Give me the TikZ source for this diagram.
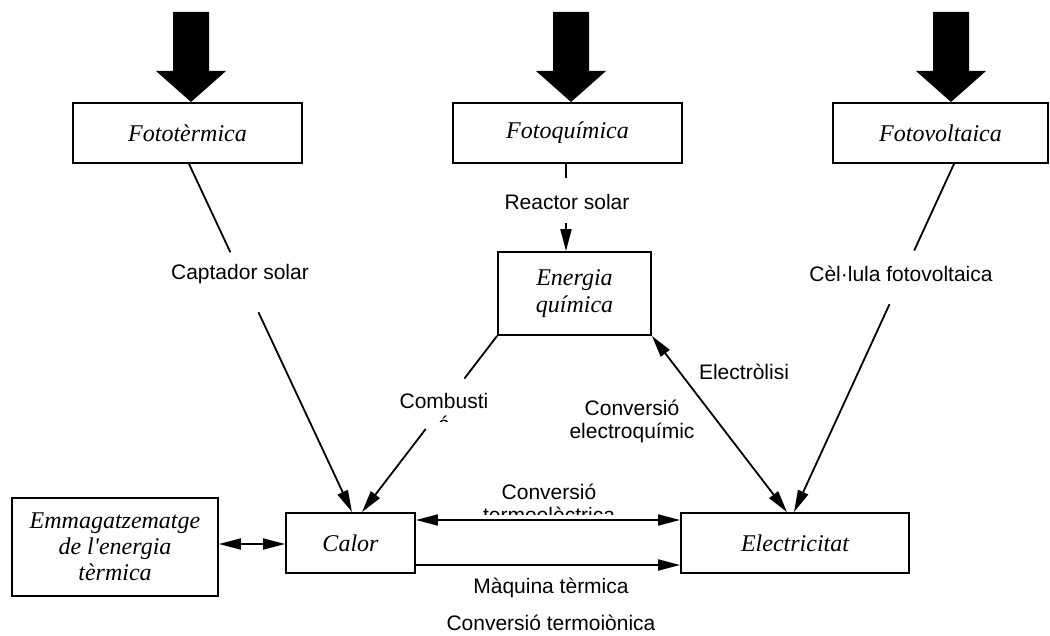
\documentclass[tikz,border=0pt]{standalone}
\usepackage{fontspec}
\setmainfont{Liberation Serif}[Ligatures=TeXOff]
\setsansfont{Liberation Sans}
\usetikzlibrary{arrows.meta,calc}
\begin{document}
\begin{tikzpicture}[x=0.5pt,y=-0.5pt,
  box/.style={draw,line width=0.9pt,inner sep=0pt,align=center,
    font=\fontsize{12}{13.5}\selectfont\itshape},
  lbl/.style={inner sep=0pt,align=center,font=\fontsize{10.5}{11.5}\selectfont\sffamily},
  conn/.style={line width=0.9pt},
  tip/.style={-{Triangle[length=11pt,width=5.5pt]}},
  dbl/.style={{Triangle[length=11pt,width=5.5pt]}-{Triangle[length=11pt,width=5.5pt]}},
  bigarrow/.style={fill=black}]
\useasboundingbox (0,0) rectangle (1050,636);

% boxes
\node[box,minimum width=114.5pt,minimum height=30pt] (ft) at (187.5,133) {Fototèrmica};
\node[box,minimum width=114.5pt,minimum height=30pt] (fq) at (567.5,133) {Fotoquímica};
\node[box,minimum width=107.5pt,minimum height=30pt] (fv) at (940.5,133) {Fotovoltaica};
\node[box,minimum width=76.5pt,minimum height=41.5pt] (eq) at (574.5,293.5) {Energia\\química};
\node[box,minimum width=64.5pt,minimum height=30pt] (cal) at (350.5,543) {Calor};
\node[box,minimum width=103pt,minimum height=49pt,font=\fontsize{12}{13}\selectfont\itshape] (em) at (115,547) {Emmagatzematge\\de l'energia\\tèrmica};
\node[box,minimum width=114pt,minimum height=30pt] (el) at (795,543) {Electricitat};

% big block arrows
\foreach \x in {191,571,951}
  \fill[bigarrow] (\x-18,12) -- (\x+18,12) -- (\x+18,71) -- (\x+35,71) -- (\x,102) -- (\x-35,71) -- (\x-18,71) -- cycle;

% Fototermica -> Calor
\coordinate (s1) at ($(ft.south)+(1.5,0)$);
\coordinate (e1) at ($(cal.north)+(1.5,0)$);
\draw[conn] (s1) -- ($(s1)!0.254!(e1)$);
\draw[conn,tip] ($(s1)!0.426!(e1)$) -- (e1);
\node[lbl] (l1) at (240,274) {Captador solar};

% Fotovoltaica -> Electricitat
\coordinate (s2) at ($(fv.south)+(13.5,0)$);
\coordinate (e2) at ($(el.north)+(-1,0)$);
\draw[conn] (s2) -- ($(s2)!0.249!(e2)$);
\draw[conn,tip] ($(s2)!0.403!(e2)$) -- (e2);
\node[lbl] (l2) at (901,274) {Cèl·lula fotovoltaica};

% Fotoquimica -> Energia quimica
\coordinate (s5) at ($(fq.south)+(-1.5,0)$);
\draw[conn] (s5) -- (s5 |- 0,178);
\draw[conn,tip] (s5 |- 0,223) -- (s5 |- eq.north);
\node[lbl] (l5) at (567,202) {Reactor solar};

% Energia quimica -> Calor
\coordinate (s3) at (eq.south west);
\coordinate (e3) at ($(cal.north)+(11.5,0)$);
\draw[conn] (s3) -- ($(s3)!0.242!(e3)$);
\draw[conn,tip] ($(s3)!0.528!(e3)$) -- (e3);
\begin{scope}
  \clip (380,385) rectangle (510,421);
  \node[lbl] (l3) at (444,412.5) {Combusti\\ó};
\end{scope}

% Energia quimica <-> Electricitat
\coordinate (s4) at (eq.south east);
\coordinate (e4) at ($(el.north)+(-8,0)$);
\draw[conn,dbl] (s4) -- (e4);
\node[lbl] (l4a) at (744,372) {Electròlisi};
\node[lbl] (l4b) at (632,421.5) {Conversió\\electroquímic};

% Calor <-> Electricitat
\draw[conn,dbl] ($(cal.east)+(0,-23)$) -- ($(el.west)+(0,-23)$);
\draw[conn,tip] ($(cal.east)+(0,22)$) -- ($(el.west)+(0,22)$);
\begin{scope}
  \clip (460,475) rectangle (640,514);
  \node[lbl] (l6) at (549,503.5) {Conversió\\termoelèctrica};
\end{scope}
\node[lbl] (l7) at (551,588) {Màquina tèrmica};
\node[lbl] (l8) at (551,623) {Conversió termoiònica};

% Emmagatzematge <-> Calor
\coordinate (e9) at ($(cal.west)+(0,1)$);
\draw[conn,dbl] (em.east |- e9) -- (e9);
\end{tikzpicture}
\end{document}
